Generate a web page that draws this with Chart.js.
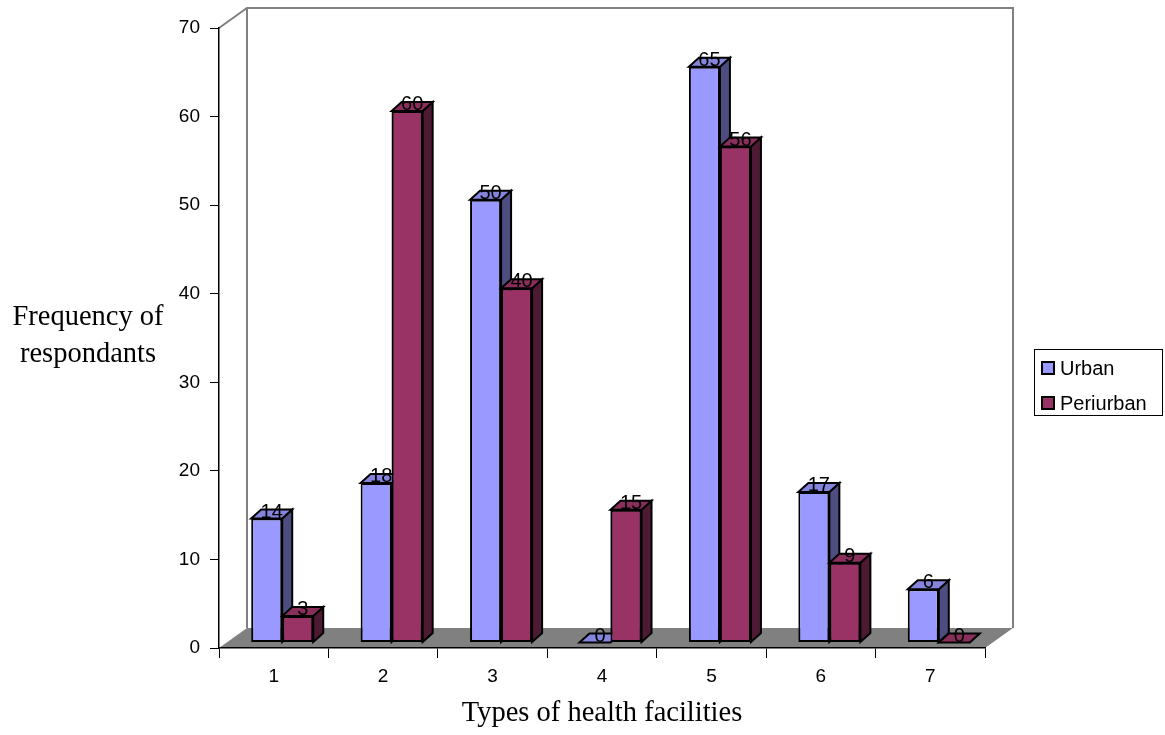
<!DOCTYPE html>
<html>
<head>
<meta charset="utf-8">
<script src="https://cdn.jsdelivr.net/npm/chart.js@4.4.1/dist/chart.umd.min.js"></script>
<style>
  html, body { margin: 0; padding: 0; background: #fff; }
  #wrap { width: 1165px; height: 735px; position: relative; }
</style>
</head>
<body>
<div id="wrap"><canvas id="c" width="1165" height="735"></canvas></div>
<script>
// Respondents by type of health facility
const categories = ['1', '2', '3', '4', '5', '6', '7'];
const urban = [14, 18, 50, 0, 65, 17, 6];
const periurban = [3, 60, 40, 15, 56, 9, 0];
const yTicks = [0, 10, 20, 30, 40, 50, 60, 70];
const seriesNames = ['Urban', 'Periurban'];
const xTitle = 'Types of health facilities';
const yTitle = ['Frequency of', 'respondants'];

// colours: front, side, top
const frontColors = ['#9999FF', '#993366'];
const sideColors = ['#4D4D80', '#4D1A33'];
const topColors = ['#8585DD', '#8A2E5C'];

// perspective offsets
const WALL = { dx: 28, dy: -20 };      // depth of the plot box
const SHIFT = { dx: 8.5, dy: -5.5 };   // bars sit a little behind the front plane
const BAR = { dx: 10, dy: -9 };        // depth of each column

function face(ctx, pts, fill) {
  ctx.beginPath();
  ctx.moveTo(pts[0][0], pts[0][1]);
  for (let i = 1; i < pts.length; i++) ctx.lineTo(pts[i][0], pts[i][1]);
  ctx.closePath();
  ctx.fillStyle = fill;
  ctx.fill();
  ctx.lineWidth = 2;
  ctx.strokeStyle = '#000';
  ctx.lineJoin = 'miter';
  ctx.stroke();
}

function columnFaces(ctx, el, ds) {
  const { x, y, base, width } = el.getProps(['x', 'y', 'base', 'width'], true);
  const l = x - width / 2, r = x + width / 2;
  const top = Math.min(y, base), bot = Math.max(y, base);
  if (bot - top > 0.5) {
    face(ctx, [[r, bot], [r + BAR.dx, bot + BAR.dy], [r + BAR.dx, top + BAR.dy], [r, top]], sideColors[ds]);
  }
  face(ctx, [[l, top], [l + BAR.dx, top + BAR.dy], [r + BAR.dx, top + BAR.dy], [r, top]], topColors[ds]);
}

const box3d = {
  id: 'box3d',
  beforeDraw(chart) {
    const { ctx, chartArea: a } = chart;
    ctx.save();
    // floor
    ctx.fillStyle = '#808080';
    ctx.beginPath();
    ctx.moveTo(a.left, a.bottom);
    ctx.lineTo(a.left + WALL.dx, a.bottom + WALL.dy);
    ctx.lineTo(a.right + WALL.dx, a.bottom + WALL.dy);
    ctx.lineTo(a.right, a.bottom);
    ctx.closePath();
    ctx.fill();
    // wall edges
    ctx.strokeStyle = '#808080';
    ctx.lineWidth = 2;
    ctx.beginPath();
    ctx.moveTo(a.left, a.top);
    ctx.lineTo(a.left + WALL.dx, a.top + WALL.dy);
    ctx.lineTo(a.right + WALL.dx, a.top + WALL.dy);
    ctx.lineTo(a.right + WALL.dx, a.bottom + WALL.dy);
    ctx.moveTo(a.left + WALL.dx, a.top + WALL.dy);
    ctx.lineTo(a.left + WALL.dx, a.bottom + WALL.dy);
    ctx.stroke();
    ctx.restore();
  },
  beforeDatasetsDraw(chart) {
    chart.ctx.save();
    chart.ctx.translate(SHIFT.dx, SHIFT.dy);
  },
  afterDatasetsDraw(chart) {
    const ctx = chart.ctx;
    const mu = chart.getDatasetMeta(0), mp = chart.getDatasetMeta(1);
    for (let i = 0; i < categories.length; i++) {
      columnFaces(ctx, mu.data[i], 0);
      mp.data[i].draw(ctx);
      columnFaces(ctx, mp.data[i], 1);
    }
    // value labels on the column tops
    ctx.font = '20px "Liberation Sans", Arial, sans-serif';
    ctx.fillStyle = '#000';
    ctx.textAlign = 'center';
    ctx.textBaseline = 'middle';
    [mu, mp].forEach((m, ds) => {
      m.data.forEach((el, i) => {
        const { x, y } = el.getProps(['x', 'y'], true);
        const v = chart.data.datasets[ds].data[i];
        ctx.fillText(String(v), x + BAR.dx / 2, y + BAR.dy / 2 - 2);
      });
    });
    ctx.restore();
  },
  afterDraw(chart) {
    const ctx = chart.ctx;
    ctx.save();
    // vertical axis title, written horizontally
    ctx.font = '28.5px "Liberation Serif", "Times New Roman", serif';
    ctx.fillStyle = '#000';
    ctx.textAlign = 'center';
    ctx.textBaseline = 'alphabetic';
    ctx.fillText(yTitle[0], 88, 325);
    ctx.fillText(yTitle[1], 88, 362);
    // legend
    ctx.strokeStyle = '#000';
    ctx.lineWidth = 1;
    ctx.strokeRect(1034.5, 349.5, 128, 66);
    ctx.font = '20px "Liberation Sans", Arial, sans-serif';
    ctx.textAlign = 'left';
    ctx.textBaseline = 'middle';
    seriesNames.forEach((name, k) => {
      const cy = 368 + k * 35;
      ctx.fillStyle = frontColors[k];
      ctx.fillRect(1042, cy - 6, 12, 12);
      ctx.lineWidth = 2;
      ctx.strokeRect(1042, cy - 6, 12, 12);
      ctx.fillStyle = '#000';
      ctx.fillText(name, 1060, cy + 1);
    });
    ctx.restore();
  }
};

const tickFont = { family: '"Liberation Sans", Arial, sans-serif', size: 19 };

new Chart(document.getElementById('c'), {
  type: 'bar',
  data: {
    labels: categories,
    datasets: [
      { label: seriesNames[0], data: urban, backgroundColor: frontColors[0] },
      { label: seriesNames[1], data: periurban, backgroundColor: frontColors[1] }
    ]
  },
  options: {
    responsive: false,
    animation: false,
    devicePixelRatio: 1,
    layout: { padding: { left: 0, top: 28, right: 180, bottom: 0 } },
    datasets: {
      bar: {
        borderColor: '#000',
        borderWidth: 2,
        borderSkipped: false,
        categoryPercentage: 0.567,
        barPercentage: 1.0,
        clip: false
      }
    },
    plugins: {
      legend: { display: false },
      title: { display: false },
      tooltip: { enabled: false }
    },
    scales: {
      x: {
        type: 'category',
        offset: true,
        grid: { display: true, offset: true, drawOnChartArea: false, drawTicks: true, tickLength: 10, color: '#000', lineWidth: 1 },
        border: { display: true, color: '#000', width: 1.5 },
        ticks: { font: tickFont, color: '#000', padding: 7, maxRotation: 0 },
        title: {
          display: true, text: xTitle, color: '#000',
          font: { family: '"Liberation Serif", "Times New Roman", serif', size: 28.5 },
          padding: { top: 0, bottom: 4 }
        },
        afterFit(s) { s.height = 87; }
      },
      y: {
        min: 0,
        max: 70,
        afterBuildTicks(s) { s.ticks = yTicks.map(v => ({ value: v })); },
        grid: { display: true, drawOnChartArea: false, drawTicks: true, tickLength: 9, color: '#000', lineWidth: 1 },
        border: { display: true, color: '#000', width: 1.5 },
        ticks: { font: tickFont, color: '#000', padding: 10 },
        afterFit(s) { s.width = 219; }
      }
    }
  },
  plugins: [box3d]
});
</script>
</body>
</html>
